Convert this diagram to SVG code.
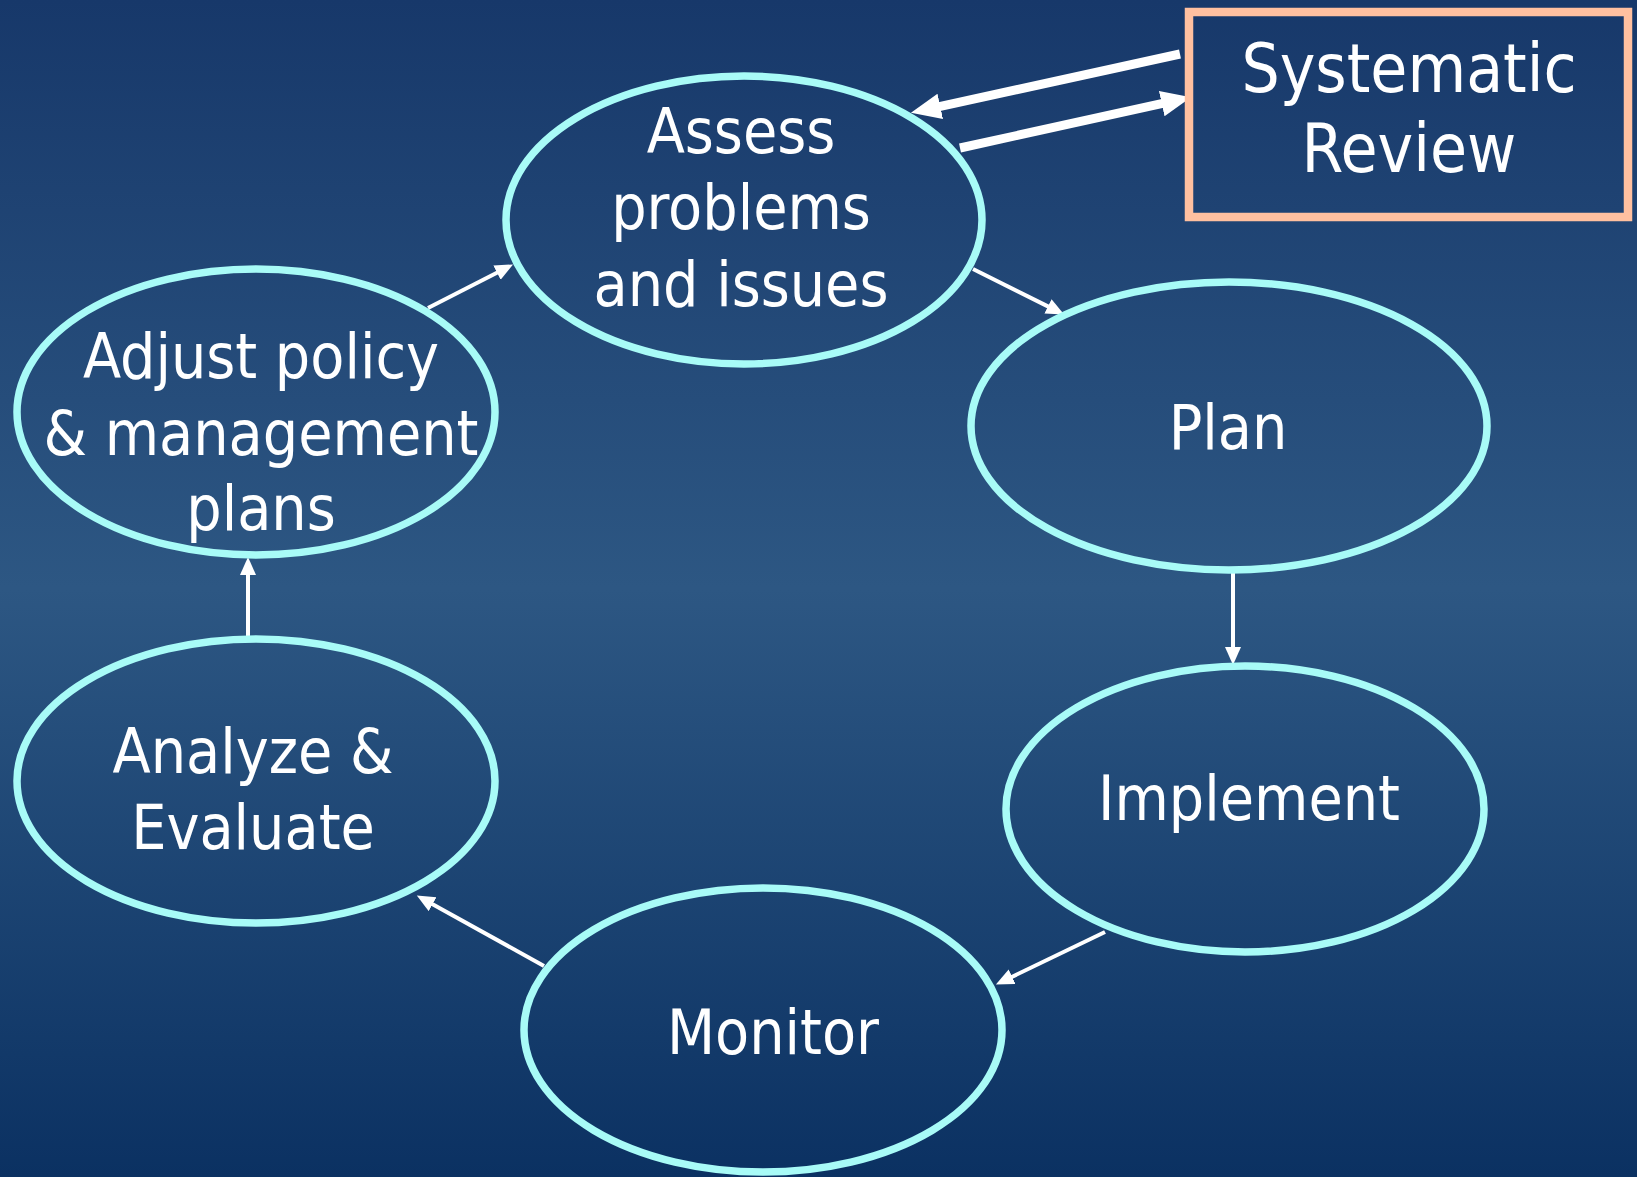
<svg xmlns="http://www.w3.org/2000/svg" width="1637" height="1177" viewBox="0 0 1637 1177">
  <defs>
    <linearGradient id="bg" x1="0" y1="0" x2="0" y2="1">
      <stop offset="0" stop-color="#17386a"/>
      <stop offset="0.5" stop-color="#2d5783"/>
      <stop offset="1" stop-color="#0b3162"/>
    </linearGradient>
    <marker id="head" markerUnits="userSpaceOnUse" markerWidth="19" markerHeight="17" refX="1" refY="8" orient="auto">
      <path d="M0,0 L18,8 L0,16 z" fill="#ffffff"/>
    </marker>
    <marker id="headBig" markerUnits="userSpaceOnUse" markerWidth="31" markerHeight="27" refX="1" refY="13" orient="auto">
      <path d="M0,0 L30,13 L0,26 z" fill="#ffffff"/>
    </marker>
    <style>
      .node { fill: none; stroke: #a8fbf7; stroke-width: 7.5; }
      .box { fill: none; stroke: #ffc0a0; stroke-width: 8.5; }
      .label { font-family: "DejaVu Sans Condensed", "DejaVu Sans", sans-serif; font-size: 62px; fill: #ffffff; text-anchor: middle; }
      .big { font-size: 67px; }
      .edge { stroke: #ffffff; stroke-width: 4; fill: none; marker-end: url(#head); }
      .edge-big { stroke: #ffffff; stroke-width: 9; fill: none; marker-end: url(#headBig); }
    </style>
  </defs>

  <rect width="1637" height="1177" fill="url(#bg)"/>

  <g id="connectors">
    <line class="edge" x1="428" y1="308" x2="497.9" y2="272.2"/>
    <line class="edge" x1="973" y1="269" x2="1048.9" y2="306.9"/>
    <line class="edge" x1="1233" y1="572" x2="1233" y2="648"/>
    <line class="edge" x1="1105" y1="932" x2="1011.2" y2="977.2"/>
    <line class="edge" x1="544" y1="966" x2="431.7" y2="903.7"/>
    <line class="edge" x1="248" y1="636" x2="248" y2="574"/>
    <line class="edge-big" x1="1180" y1="54" x2="939.3" y2="106.6"/>
    <line class="edge-big" x1="960" y1="148" x2="1162.7" y2="103.4"/>
  </g>

  <g id="systematic-review">
    <rect class="box" x="1189" y="12" width="439" height="205"/>
    <text class="label big" x="1409" y="92">Systematic</text>
    <text class="label big" x="1409" y="172">Review</text>
  </g>

  <g id="assess">
    <ellipse class="node" cx="744" cy="220" rx="238" ry="144"/>
    <text class="label" x="741" y="153">Assess</text>
    <text class="label" x="741" y="229">problems</text>
    <text class="label" x="741" y="306">and issues</text>
  </g>

  <g id="plan">
    <ellipse class="node" cx="1229" cy="426" rx="258" ry="144"/>
    <text class="label" x="1228" y="449">Plan</text>
  </g>

  <g id="implement">
    <ellipse class="node" cx="1245" cy="809" rx="239" ry="143"/>
    <text class="label" x="1249" y="820">Implement</text>
  </g>

  <g id="monitor">
    <ellipse class="node" cx="763" cy="1030" rx="239" ry="142"/>
    <text class="label" x="773" y="1054">Monitor</text>
  </g>

  <g id="analyze">
    <ellipse class="node" cx="256" cy="781" rx="239" ry="142"/>
    <text class="label" x="253" y="773">Analyze &amp;</text>
    <text class="label" x="253" y="849">Evaluate</text>
  </g>

  <g id="adjust">
    <ellipse class="node" cx="256" cy="412" rx="239" ry="143"/>
    <text class="label" x="261" y="378">Adjust policy</text>
    <text class="label" x="261" y="455">&amp; management</text>
    <text class="label" x="261" y="530">plans</text>
  </g>
</svg>
